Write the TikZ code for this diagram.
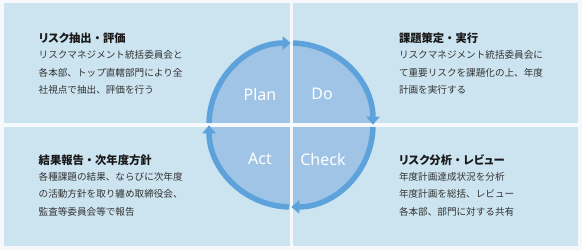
\documentclass[tikz,border=0pt]{standalone}
\usepackage{fontspec}
\usepackage{xcolor}
\usetikzlibrary{arrows.meta}
\setmainfont{Noto Sans}
\newfontfamily\jpfont{Noto Sans CJK JP}
\newfontfamily\jptitlefont[RawFeature=+palt]{Noto Sans CJK JP}
\newcommand{\tdot}{{\jpfont\bfseries ・}}
\definecolor{pagebg}{HTML}{F6F9FB}
\definecolor{quadc}{HTML}{CCE4F0}
\definecolor{discc}{HTML}{9FC4E6}
\definecolor{ringc}{HTML}{5DA2DA}
\definecolor{txtc}{HTML}{333333}
\tikzset{
  quadtitle/.style={font=\jptitlefont\bfseries\fontsize{11.3}{13}\selectfont, text=black!90, anchor=base west, inner sep=0pt},
  quadline/.style={font=\jpfont\fontsize{9.6}{12}\selectfont, text=txtc, anchor=base west, inner sep=0pt},
  cyclelabel/.style={font=\fontsize{16}{18}\selectfont, text=white, inner sep=0pt},
  cyclearrow/.style={draw=ringc, line width=5.5pt, -{Triangle[length=8pt,width=13pt]}}
}
\newcommand{\quadtext}[4]{%
  \node[quadtitle] (#1-title) at (#2) {#3};
  \foreach \l [count=\i] in {#4}{
     \node[quadline] (#1-line\i) at ([yshift={-(17.5*\i-1.4)*1pt}]#1-title.base west) {\l};}}

\begin{document}
\begin{tikzpicture}[x=1pt, y=1pt]
  \useasboundingbox (0,0) rectangle (582,250);
  \fill[pagebg] (0,0) rectangle (582,250);
  \fill[quadc] (4,4) rectangle (578,247);
  \coordinate (c) at (291,125);
  \fill[discc] (c) circle[radius=82];
  \fill[pagebg] (289.5,0) rectangle (292.5,250);
  \fill[pagebg] (0,123) rectangle (582,127);
  \draw[cyclearrow] ([shift={(178.6:82)}]c) arc[start angle=178.6, end angle=90.2, radius=82];
  \draw[cyclearrow] ([shift={(88.6:82)}]c) arc[start angle=88.6, end angle=0.2, radius=82];
  \draw[cyclearrow] ([shift={(-1.4:82)}]c) arc[start angle=-1.4, end angle=-89.8, radius=82];
  \draw[cyclearrow] ([shift={(-91.4:82)}]c) arc[start angle=-91.4, end angle=-179.8, radius=82];
  \node[cyclelabel] (plan) at (260,156) {Plan};
  \node[cyclelabel] (do) at (322,156) {Do};
  \node[cyclelabel] (act) at (260,91) {Act};
  \node[cyclelabel] (check) at (323,91) {Check};
  \quadtext{plantxt}{38.5,207.5}{リスク抽出\tdot 評価}{リスクマネジメント統括委員会と,各本部、トップ直轄部門により全,社視点で抽出、評価を行う}
  \quadtext{dotxt}{398.8,207.5}{課題策定\tdot 実行}{リスクマネジメント統括委員会に,て重要リスクを課題化の上、年度,計画を実行する}
  \quadtext{acttxt}{38.5,85.8}{結果報告\tdot 次年度方針}{各種課題の結果、ならびに次年度,の活動方針を取り纏め取締役会、,監査等委員会等で報告}
  \quadtext{checktxt}{398.8,85.8}{リスク分析\tdot レビュー}{年度計画達成状況を分析,年度計画を総括、レビュー,各本部、部門に対する共有}
\end{tikzpicture}
\end{document}
